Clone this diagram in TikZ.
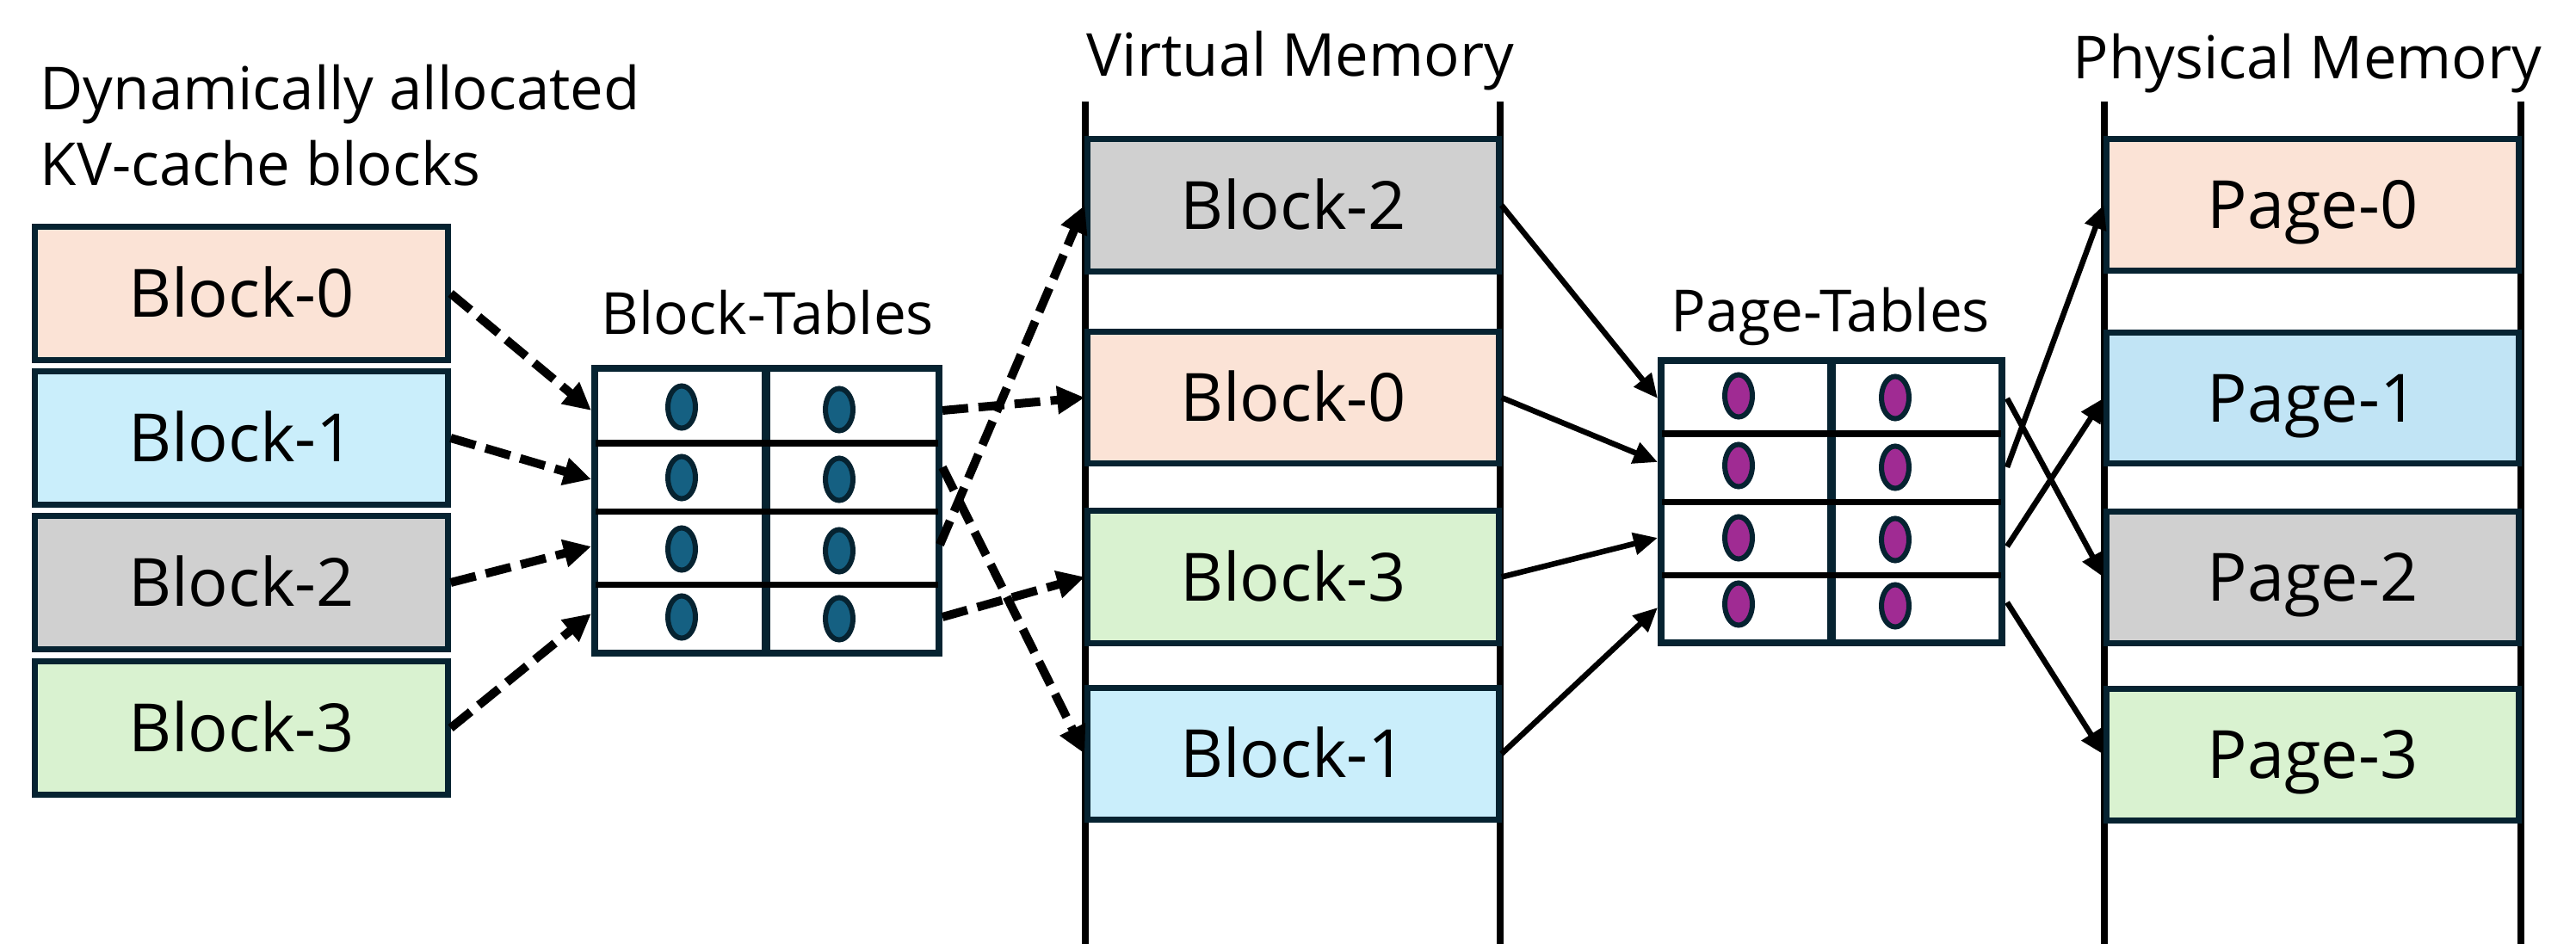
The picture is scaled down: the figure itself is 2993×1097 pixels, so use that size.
\documentclass[tikz,border=0pt]{standalone}
\usepackage{fontspec}
\setmainfont{Open Sans}
\usetikzlibrary{arrows.meta,shapes.geometric}
\definecolor{navy}{HTML}{062331}
\definecolor{peach}{HTML}{FBE3D6}
\definecolor{lblue}{HTML}{CAEEFB}
\definecolor{pblue}{HTML}{C1E4F5}
\definecolor{lgray}{HTML}{D0D0D0}
\definecolor{lgreen}{HTML}{D9F2D0}
\definecolor{dotblue}{HTML}{156082}
\definecolor{dotpurple}{HTML}{A02B93}
\begin{document}
\begin{tikzpicture}[x=0.01cm,y=-0.01cm,
  blk/.style={draw=navy, line width=0.07cm, minimum width=4.78cm, minimum height=1.54cm,
    inner sep=0pt, text height=0.55cm, text depth=0pt, font=\fontsize{22}{26}\selectfont},
  ttl/.style={font=\fontsize{19.6}{23}\selectfont, inner sep=0pt},
  lbl/.style={font=\fontsize{19.2}{22}\selectfont, inner sep=0pt},
  tbl/.style={draw=navy, line width=0.08cm, fill=white, inner sep=0pt},
  rail/.style={line width=0.08cm, draw=black},
  rowline/.style={line width=0.07cm, draw=black},
  divline/.style={line width=0.10cm, draw=navy},
  dsh/.style={line width=0.10cm, dash pattern=on 0.30cm off 0.12cm,
    -{Triangle[length=0.32cm,width=0.31cm]}},
  sol/.style={line width=0.065cm, -{Triangle[length=0.28cm,width=0.25cm]}},
  bdot/.style={ellipse, draw=navy, line width=0.06cm, fill=dotblue,
    minimum width=0.32cm, minimum height=0.49cm, inner sep=0pt},
  pdot/.style={bdot, fill=dotpurple},
]
\useasboundingbox (0,0) rectangle (2993,1097);

% titles
\node[ttl, anchor=base west] (t1) at (46,128) {Dynamically allocated};
\node[ttl, anchor=base west] (t2) at (46,216) {KV-cache blocks};
\node[ttl, anchor=base] (tvm) at (1511,89) {Virtual Memory};
\node[ttl, anchor=base] (tpm) at (2681,92) {Physical Memory};
\node[lbl, anchor=base] (tbt) at (892,389) {Block-Tables};
\node[lbl, anchor=base] (tpt) at (2127,386) {Page-Tables};

% rails
\draw[rail] (1261,118) coordinate (vml1) -- (1261,1097) coordinate (vml2);
\draw[rail] (1743,118) coordinate (vmr1) -- (1743,1097) coordinate (vmr2);
\draw[rail] (2445,118) coordinate (pml1) -- (2445,1097) coordinate (pml2);
\draw[rail] (2929,118) coordinate (pmr1) -- (2929,1097) coordinate (pmr2);

% KV-cache blocks
\node[blk, fill=peach,  minimum width=4.79cm] (kv0) at (280.5,341) {Block-0};
\node[blk, fill=lblue,  minimum width=4.79cm] (kv1) at (280.5,509) {Block-1};
\node[blk, fill=lgray,  minimum width=4.79cm] (kv2) at (280.5,677) {Block-2};
\node[blk, fill=lgreen, minimum width=4.79cm] (kv3) at (280.5,846) {Block-3};

% virtual memory blocks
\node[blk, fill=lgray,  minimum width=4.77cm, minimum height=1.53cm] (vm2) at (1502.5,238.5) {Block-2};
\node[blk, fill=peach,  minimum width=4.77cm, minimum height=1.53cm] (vm0) at (1502.5,462) {Block-0};
\node[blk, fill=lgreen, minimum width=4.77cm, minimum height=1.53cm] (vm3) at (1502.5,670.5) {Block-3};
\node[blk, fill=lblue,  minimum width=4.77cm, minimum height=1.53cm] (vm1) at (1502.5,876) {Block-1};

% physical memory pages
\node[blk, fill=peach,  minimum height=1.52cm] (pg0) at (2687,238) {Page-0};
\node[blk, fill=pblue,  minimum height=1.52cm] (pg1) at (2687,462.5) {Page-1};
\node[blk, fill=lgray,  minimum height=1.52cm] (pg2) at (2687,671) {Page-2};
\node[blk, fill=lgreen, minimum height=1.52cm] (pg3) at (2687,877) {Page-3};

% block table
\node[tbl, minimum width=4.00cm, minimum height=3.31cm] (bt) at (891,593.5) {};
\draw[divline] (890,428) -- (890,759);
\draw[rowline] (692,515) -- (1090,515);
\draw[rowline] (692,594) -- (1090,594);
\draw[rowline] (692,679) -- (1090,679);
\node[bdot] (b11) at (792,473) {};
\node[bdot] (b12) at (975,476) {};
\node[bdot] (b21) at (792,555) {};
\node[bdot] (b22) at (975,557) {};
\node[bdot] (b31) at (792,638) {};
\node[bdot] (b32) at (975,640) {};
\node[bdot] (b41) at (792,717) {};
\node[bdot] (b42) at (975,719) {};

% page table
\node[tbl, minimum width=3.96cm, minimum height=3.28cm] (pt) at (2128,583) {};
\draw[divline] (2128,419) -- (2128,747);
\draw[rowline] (1931,504) -- (2325,504);
\draw[rowline] (1931,583) -- (2325,583);
\draw[rowline] (1931,668) -- (2325,668);
\node[pdot] (p11) at (2020,460) {};
\node[pdot] (p12) at (2202,462) {};
\node[pdot] (p21) at (2020,541) {};
\node[pdot] (p22) at (2202,543) {};
\node[pdot] (p31) at (2020,625) {};
\node[pdot] (p32) at (2202,627) {};
\node[pdot] (p41) at (2020,702) {};
\node[pdot] (p42) at (2202,704) {};

% connector end points on the tables
\coordinate (bti1) at (687,477);
\coordinate (bti2) at (687,557);
\coordinate (bti3) at (687,635);
\coordinate (bti4) at (687,713);
\coordinate (bto1) at (1095,477);
\coordinate (bto2) at (1095,543);
\coordinate (bto3) at (1092,633);
\coordinate (bto4) at (1095,717);
\coordinate (pti1) at (1926,463);
\coordinate (pti2) at (1926,537);
\coordinate (pti3) at (1926,625);
\coordinate (pti4) at (1926,706);
\coordinate (pto1) at (2332,463);
\coordinate (pto2) at (2332,543);
\coordinate (pto3) at (2332,635);
\coordinate (pto4) at (2332,700);

% KV blocks -> block table
\draw[dsh] (kv0.east) -- (bti1);
\draw[dsh] (kv1.east) -- (bti2);
\draw[dsh] (kv2.east) -- (bti3);
\draw[dsh] (kv3.east) -- (bti4);

% block table -> virtual memory
\draw[dsh] (bto1) -- (vm0.west);
\draw[dsh] (bto2) -- (vm1.west);
\draw[dsh] (bto3) -- (vm2.west);
\draw[dsh] (bto4) -- (vm3.west);

% virtual memory -> page table
\draw[sol] (vm2.east) -- (pti1);
\draw[sol] (vm0.east) -- (pti2);
\draw[sol] (vm3.east) -- (pti3);
\draw[sol] (vm1.east) -- (pti4);

% page table -> physical memory
\draw[sol] (pto1) -- (pg2.west);
\draw[sol] (pto2) -- (pg0.west);
\draw[sol] (pto3) -- (pg1.west);
\draw[sol] (pto4) -- (pg3.west);
\end{tikzpicture}
\end{document}
